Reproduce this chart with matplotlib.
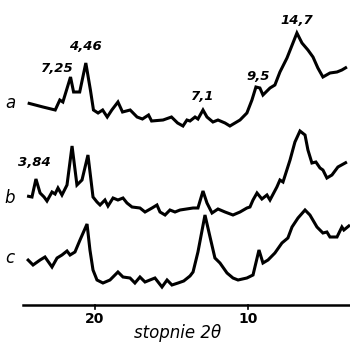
import matplotlib.pyplot as plt

# 2-theta positions and heights (arbitrary units)
a_2theta = [24.4, 23.9, 23.4, 22.6, 22.3, 22.1, 21.6, 21.4, 21.0, 20.6, 20.3, 20.1,
            19.8, 19.5, 19.2, 18.9, 18.5, 18.2, 17.7, 17.25, 16.9, 16.5, 16.3, 15.55,
            15.0, 14.6, 14.25, 13.99, 13.79, 13.46, 13.27, 12.94, 12.68, 12.29, 11.96,
            11.5, 11.18, 10.85, 10.52, 10.07, 9.74, 9.48, 9.22, 9.02, 8.56, 8.24, 7.91,
            7.45, 7.19, 6.8, 6.47, 6.08, 5.75, 5.43, 5.1, 4.64, 4.18, 3.86, 3.53]
a_int = [24, 22, 20, 17, 27, 25, 50, 35, 35, 64, 37, 17,
         14, 17, 10, 17, 25, 15, 17, 10, 8, 12, 6, 7,
         10, 4, 1, 7, 6, 10, 8, 17, 10, 5, 7,
         4, 1, 4, 7, 14, 27, 40, 39, 32, 39, 42, 55,
         69, 79, 94, 84, 77, 70, 59, 50, 54, 55, 57, 60]

b_2theta = [24.44, 24.12, 23.86, 23.59, 23.33, 23.14, 22.81, 22.61, 22.42, 22.16, 21.83,
            21.5, 21.18, 20.85, 20.46, 20.13, 19.87, 19.67, 19.35, 19.15, 18.82, 18.5,
            18.17, 17.91, 17.58, 17.06, 16.73, 16.27, 15.95, 15.75, 15.42, 15.1, 14.77,
            14.44, 13.59, 13.27, 12.94, 12.68, 12.35, 11.96, 11.5, 10.98, 10.52, 10.07,
            9.87, 9.67, 9.41, 9.09, 8.76, 8.56, 8.11, 7.91, 7.71, 7.25, 6.93, 6.6, 6.27,
            6.08, 5.82, 5.56, 5.29, 5.1, 4.84, 4.51, 4.12, 3.53]
b_int = [19, 18, 36, 22, 18, 14, 23, 21, 27, 20, 30,
         69, 30, 35, 60, 18, 13, 10, 15, 9, 17, 15,
         17, 12, 8, 7, 3, 7, 10, 3, 0, 5, 3,
         5, 7, 7, 24, 12, 2, 6, 3, 0, 3, 7,
         8, 15, 22, 16, 20, 15, 28, 35, 33, 55, 73, 84, 80,
         65, 52, 53, 47, 45, 37, 40, 48, 53]

c_2theta = [24.44, 24.05, 23.59, 23.27, 22.81, 22.48, 22.16, 21.83, 21.63, 21.31, 20.98,
            20.52, 20.33, 20.13, 19.87, 19.48, 19.02, 18.5, 18.17, 17.71, 17.39, 17.06,
            16.73, 16.41, 16.08, 15.62, 15.29, 14.97, 14.57, 14.2, 13.79, 13.59, 13.27,
            12.81, 12.48, 12.16, 11.83, 11.37, 10.98, 10.65, 10.07, 9.67, 9.28, 9.02,
            8.69, 8.24, 7.78, 7.39, 7.12, 6.73, 6.27, 5.95, 5.49, 5.1, 4.84, 4.64, 4.18,
            3.86, 3.73, 3.33]
c_int = [28, 22, 27, 30, 20, 29, 32, 36, 32, 35, 47,
         63, 37, 17, 7, 4, 7, 15, 10, 9, 4, 10,
         5, 7, 9, 0, 7, 2, 4, 6, 11, 15, 35,
         72, 50, 29, 24, 14, 9, 7, 9, 12, 37, 24,
         27, 34, 44, 49, 60, 69, 77, 72, 60, 54, 55, 50, 50,
         60, 57, 62]

curve_names = ['a', 'b', 'c']
peak_labels = ['7,25', '4,46', '7,1', '9,5', '14,7', '3,84']
peak_pos = [22.45, 20.6, 12.94, 9.35, 6.8, 23.95]
axis_ticks = [20, 10]

offsets = [215, 127, 55]

fig = plt.figure(figsize=(3.5, 3.42), dpi=100)
ax = fig.add_axes([0, 0, 1, 1])
ax.set_xlim(26.21, 3.33)
ax.set_ylim(0, 342)
ax.axis('off')

for xs, ys, off in zip([a_2theta, b_2theta, c_2theta], [a_int, b_int, c_int], offsets):
    ax.plot(xs, [v + off for v in ys], color='black', lw=2.2,
            solid_joinstyle='miter', solid_capstyle='butt')

# curve letters
label_y = [239, 144, 84]
for name, y in zip(curve_names, label_y):
    ax.text(25.55, y, name, fontsize=12, style='italic', ha='center', va='center')

# peak annotations (d-spacings)
label_h = [274, 295, 245, 265, 322, 180]
for lab, x, y in zip(peak_labels, peak_pos, label_h):
    ax.text(x, y, lab, fontsize=9.5, style='italic', fontweight='bold',
            ha='center', va='center')

# bottom axis
ax.plot([24.7, 3.33], [37, 37], color='black', lw=1.8)
for t in axis_ticks:
    ax.plot([t, t], [37, 33], color='black', lw=1.2)
    ax.text(t, 23, str(t), fontsize=10, fontweight='bold', ha='center', va='center')
ax.text(14.6, 9, 'stopnie 2θ', fontsize=12, style='italic', ha='center', va='center')

fig.savefig('out.png', dpi=100)
